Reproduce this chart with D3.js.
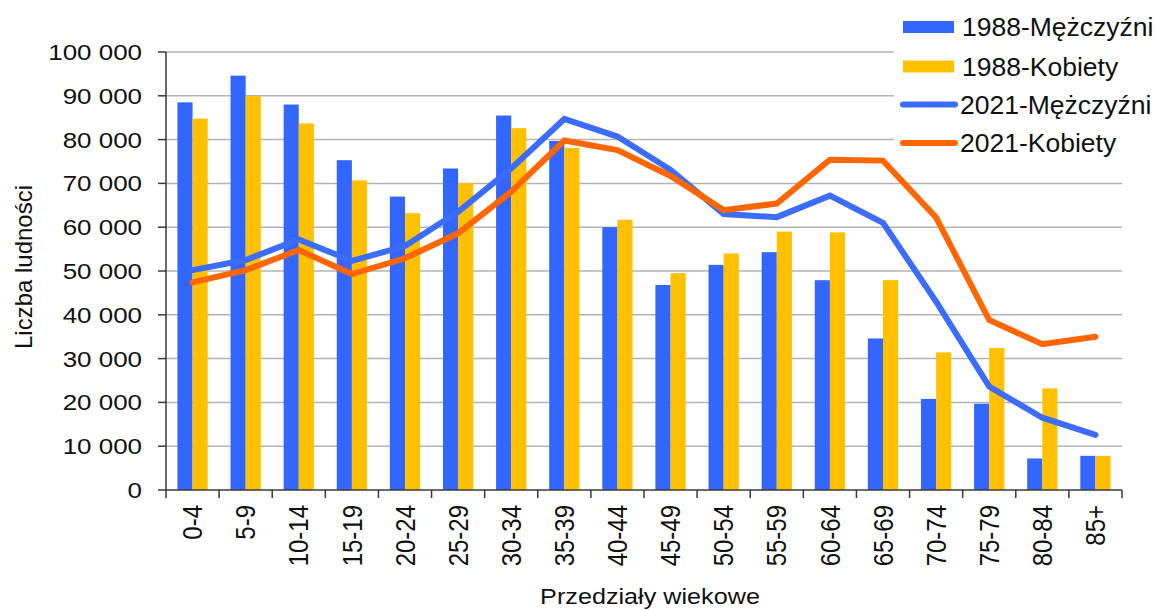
<!DOCTYPE html>
<html>
<head>
<meta charset="utf-8">
<script src="https://cdn.jsdelivr.net/npm/d3@7"></script>
<style>
  body { margin: 0; background: #fff; }
  text { font-family: "Liberation Sans", Arial, sans-serif; fill: #111; }
</style>
</head>
<body>
<div id="chart"></div>
<script>
// age groups
const ageGroups = ["0-4", "5-9", "10-14", "15-19", "20-24", "25-29", "30-34", "35-39", "40-44",
    "45-49", "50-54", "55-59", "60-64", "65-69", "70-74", "75-79", "80-84", "85+"];
// 1988 bars
const men1988 = [88500, 94600, 88000, 75300, 67000, 73400, 85500, 79700, 60000,
    46800, 51400, 54300, 47900, 34600, 20800, 19700, 7200, 7800];
const women1988 = [84800, 89900, 83700, 70700, 63200, 70100, 82600, 78100, 61700,
    49500, 54000, 59000, 58800, 47900, 31400, 32400, 23200, 7800];
// 2021 lines
const men2021 = [50200, 52500, 57200, 52300, 55700, 63500, 73400, 84700, 80700,
    73100, 63000, 62300, 67200, 61000, 43000, 23600, 16500, 12600];
const women2021 = [47400, 50200, 54800, 49300, 52900, 58600, 68100, 79800, 77600,
    71700, 63900, 65400, 75400, 75200, 62200, 38800, 33300, 35000];
const yTicks = d3.range(0, 100001, 10000);

const seriesNames = ["1988-Mężczyźni", "1988-Kobiety", "2021-Mężczyźni", "2021-Kobiety"];
const colors = {bm: "#3366ff", bw: "#ffc000", lm: "#3b6cfb", lw: "#ff6600"};

let width = 1156, height = 610;
let plot = {left: 166, right: 1122, top: 52, bottom: 490};

let svg = d3.select("#chart").append("svg")
    .attr("width", width)
    .attr("height", height);

let x = d3.scaleBand()
    .domain(ageGroups)
    .range([plot.left, plot.right])
    .paddingInner(0.43)
    .paddingOuter(0.215);

let xSub = d3.scaleBand()
    .domain(["m", "w"])
    .range([0, x.bandwidth()]);

let y = d3.scaleLinear()
    .domain([0, 100000])
    .range([plot.bottom, plot.top]);

// gridlines
svg.append("g")
    .selectAll("line")
    .data(yTicks.filter(d => d > 0))
    .enter()
    .append("line")
    .attr("x1", plot.left)
    .attr("x2", plot.right)
    .attr("y1", d => y(d))
    .attr("y2", d => y(d))
    .attr("stroke", "#b4b4b4")
    .attr("stroke-width", 1.5);

// bars
let groups = svg.append("g")
    .selectAll("g")
    .data(ageGroups)
    .enter()
    .append("g")
    .attr("transform", d => "translate(" + x(d) + ",0)");

groups.append("rect")
    .attr("x", xSub("m"))
    .attr("width", xSub.bandwidth())
    .attr("y", (d, i) => y(men1988[i]))
    .attr("height", (d, i) => y(0) - y(men1988[i]))
    .attr("fill", colors.bm);

groups.append("rect")
    .attr("x", xSub("w"))
    .attr("width", xSub.bandwidth())
    .attr("y", (d, i) => y(women1988[i]))
    .attr("height", (d, i) => y(0) - y(women1988[i]))
    .attr("fill", colors.bw);

// lines
let line = d3.line()
    .x((d, i) => x(ageGroups[i]) + x.bandwidth() / 2)
    .y(d => y(d));

[[men2021, colors.lm], [women2021, colors.lw]].forEach(([vals, c]) => {
    svg.append("path")
        .datum(vals)
        .attr("d", line)
        .attr("fill", "none")
        .attr("stroke", c)
        .attr("stroke-width", 6)
        .attr("stroke-linecap", "round")
        .attr("stroke-linejoin", "miter");
});

// axes
let axisColor = "#3a3a3a";
svg.append("line")
    .attr("x1", plot.left).attr("x2", plot.left)
    .attr("y1", plot.top).attr("y2", plot.bottom)
    .attr("stroke", axisColor).attr("stroke-width", 1.5);
svg.append("line")
    .attr("x1", plot.left).attr("x2", plot.right)
    .attr("y1", plot.bottom).attr("y2", plot.bottom)
    .attr("stroke", axisColor).attr("stroke-width", 1.5);

// y ticks + labels
let yt = svg.append("g")
    .selectAll("g")
    .data(yTicks)
    .enter()
    .append("g");
yt.append("line")
    .attr("x1", plot.left - 8).attr("x2", plot.left)
    .attr("y1", d => y(d)).attr("y2", d => y(d))
    .attr("stroke", axisColor).attr("stroke-width", 1.5);
yt.append("text")
    .attr("transform", d => "translate(142," + y(d) + ") scale(1.18,1)")
    .attr("dy", "0.36em")
    .attr("text-anchor", "end")
    .style("font-size", "22px")
    .text(d => d3.format(",")(d).replace(/,/g, " "));

// x ticks at band boundaries
let step = x.step();
svg.append("g")
    .selectAll("line")
    .data(d3.range(ageGroups.length + 1))
    .enter()
    .append("line")
    .attr("x1", i => plot.left + i * step)
    .attr("x2", i => plot.left + i * step)
    .attr("y1", plot.bottom)
    .attr("y2", plot.bottom + 8)
    .attr("stroke", axisColor).attr("stroke-width", 1.5);

svg.append("g")
    .selectAll("text")
    .data(ageGroups)
    .enter()
    .append("text")
    .attr("transform", d => "translate(" + (x(d) + x.bandwidth() / 2) + ",505) scale(1.12,1) rotate(-90)")
    .attr("dy", "0.36em")
    .attr("text-anchor", "end")
    .style("font-size", "24px")
    .text(d => d);

// axis titles
svg.append("text")
    .attr("transform", "translate(23,267) rotate(-90)")
    .attr("dy", "0.36em")
    .attr("text-anchor", "middle")
    .style("font-size", "24px")
    .text("Liczba ludności");

svg.append("text")
    .attr("transform", "translate(650,604) scale(1.12,1)")
    .attr("text-anchor", "middle")
    .style("font-size", "22.5px")
    .text("Przedziały wiekowe");

// legend
let legend = svg.append("g");
legend.append("rect")
    .attr("x", 894).attr("y", 0)
    .attr("width", width - 894).attr("height", 165)
    .attr("fill", "#fff");

let legendRows = [
    {name: seriesNames[0], color: colors.bm, type: "bar"},
    {name: seriesNames[1], color: colors.bw, type: "bar"},
    {name: seriesNames[2], color: colors.lm, type: "line"},
    {name: seriesNames[3], color: colors.lw, type: "line"}
];
let rowY = [27, 66.5, 104.5, 143];

legendRows.forEach((r, i) => {
    if (r.type === "bar") {
        legend.append("rect")
            .attr("x", 903).attr("y", rowY[i] - 6)
            .attr("width", 51).attr("height", 12)
            .attr("fill", r.color);
    } else {
        legend.append("line")
            .attr("x1", 903).attr("x2", 955)
            .attr("y1", rowY[i]).attr("y2", rowY[i])
            .attr("stroke", r.color)
            .attr("stroke-width", 6)
            .attr("stroke-linecap", "round");
    }
    legend.append("text")
        .attr("transform", "translate(" + (r.type === "bar" ? 962 : 960) + "," + rowY[i] + ") scale(1.04,1)")
        .attr("dy", "0.36em")
        .style("font-size", "25.5px")
        .text(r.name);
});
</script>
</body>
</html>
